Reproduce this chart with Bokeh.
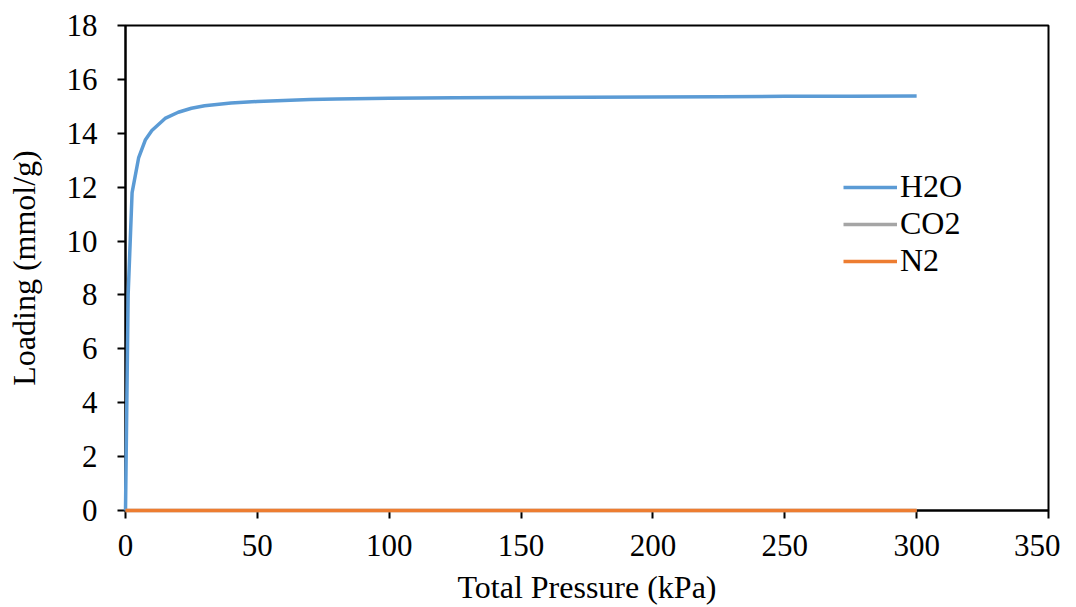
from bokeh.plotting import figure
from bokeh.models import Range1d, Legend, LegendItem, FixedTicker
from bokeh.embed import file_html
from bokeh.resources import INLINE

pressure = [0, 1, 2.5, 5, 7.5, 10, 15, 20, 25, 30, 40, 50, 60, 70, 80, 100,
            125, 150, 175, 200, 225, 250, 275, 300]
h2o = [0, 8.0, 11.8, 13.1, 13.75, 14.1, 14.55, 14.78, 14.93, 15.02, 15.12, 15.18,
       15.22, 15.25, 15.27, 15.30, 15.32, 15.33, 15.34, 15.35, 15.36, 15.37, 15.37, 15.38]
co2 = [0.0] * len(pressure)
n2 = [0.0] * len(pressure)

x_ticks = [0, 50, 100, 150, 200, 250, 300, 350]
y_ticks = [0, 2, 4, 6, 8, 10, 12, 14, 16, 18]

FONT = "Liberation Serif"
FS_TICK = "31px"
FS = "32px"

p = figure(width=1060, height=607, output_backend="svg", toolbar_location=None,
           x_range=Range1d(0, 350), y_range=Range1d(0, 18),
           min_border_left=125, min_border_right=12, min_border_top=25, min_border_bottom=97)

r_h2o = p.line(pressure, h2o, line_color="#5B9BD5", line_width=3.5, level="overlay")
r_co2 = p.line(pressure, co2, line_color="#A5A5A5", line_width=3.5, level="overlay")
r_n2 = p.line(pressure, n2, line_color="#ED7D31", line_width=3.5, level="overlay")

p.xgrid.visible = False
p.ygrid.visible = False
p.outline_line_color = "black"
p.outline_line_width = 2
p.outline_line_alpha = 1

for ax in (p.xaxis[0], p.yaxis[0]):
    ax.axis_line_color = "black"
    ax.axis_line_width = 2
    ax.major_tick_line_color = "black"
    ax.major_tick_line_width = 2
    ax.major_tick_out = 8
    ax.major_tick_in = 0
    ax.minor_tick_line_color = None
    ax.major_label_text_font = FONT
    ax.major_label_text_font_size = FS_TICK
    ax.major_label_text_color = "black"
    ax.axis_label_text_font = FONT
    ax.axis_label_text_font_size = FS
    ax.axis_label_text_font_style = "normal"
    ax.axis_label_text_color = "black"

p.xaxis[0].ticker = FixedTicker(ticks=x_ticks)
p.yaxis[0].ticker = FixedTicker(ticks=y_ticks)
p.xaxis[0].axis_label = "Total Pressure (kPa)"
p.yaxis[0].axis_label = "Loading (mmol/g)"
p.xaxis[0].major_label_standoff = 16
p.yaxis[0].major_label_standoff = 20
p.xaxis[0].axis_label_standoff = 10
p.yaxis[0].axis_label_standoff = 22

legend = Legend(items=[LegendItem(label="H2O", renderers=[r_h2o]),
                       LegendItem(label="CO2", renderers=[r_co2]),
                       LegendItem(label="N2", renderers=[r_n2])],
                location=(718, 231), padding=0, margin=0, spacing=0,
                glyph_width=54, glyph_height=20, label_height=36, label_standoff=3,
                label_text_font=FONT, label_text_font_size=FS, label_text_color="black",
                border_line_color=None, background_fill_alpha=0)
p.add_layout(legend, "center")

open("out.html", "w").write(file_html(p, INLINE))
